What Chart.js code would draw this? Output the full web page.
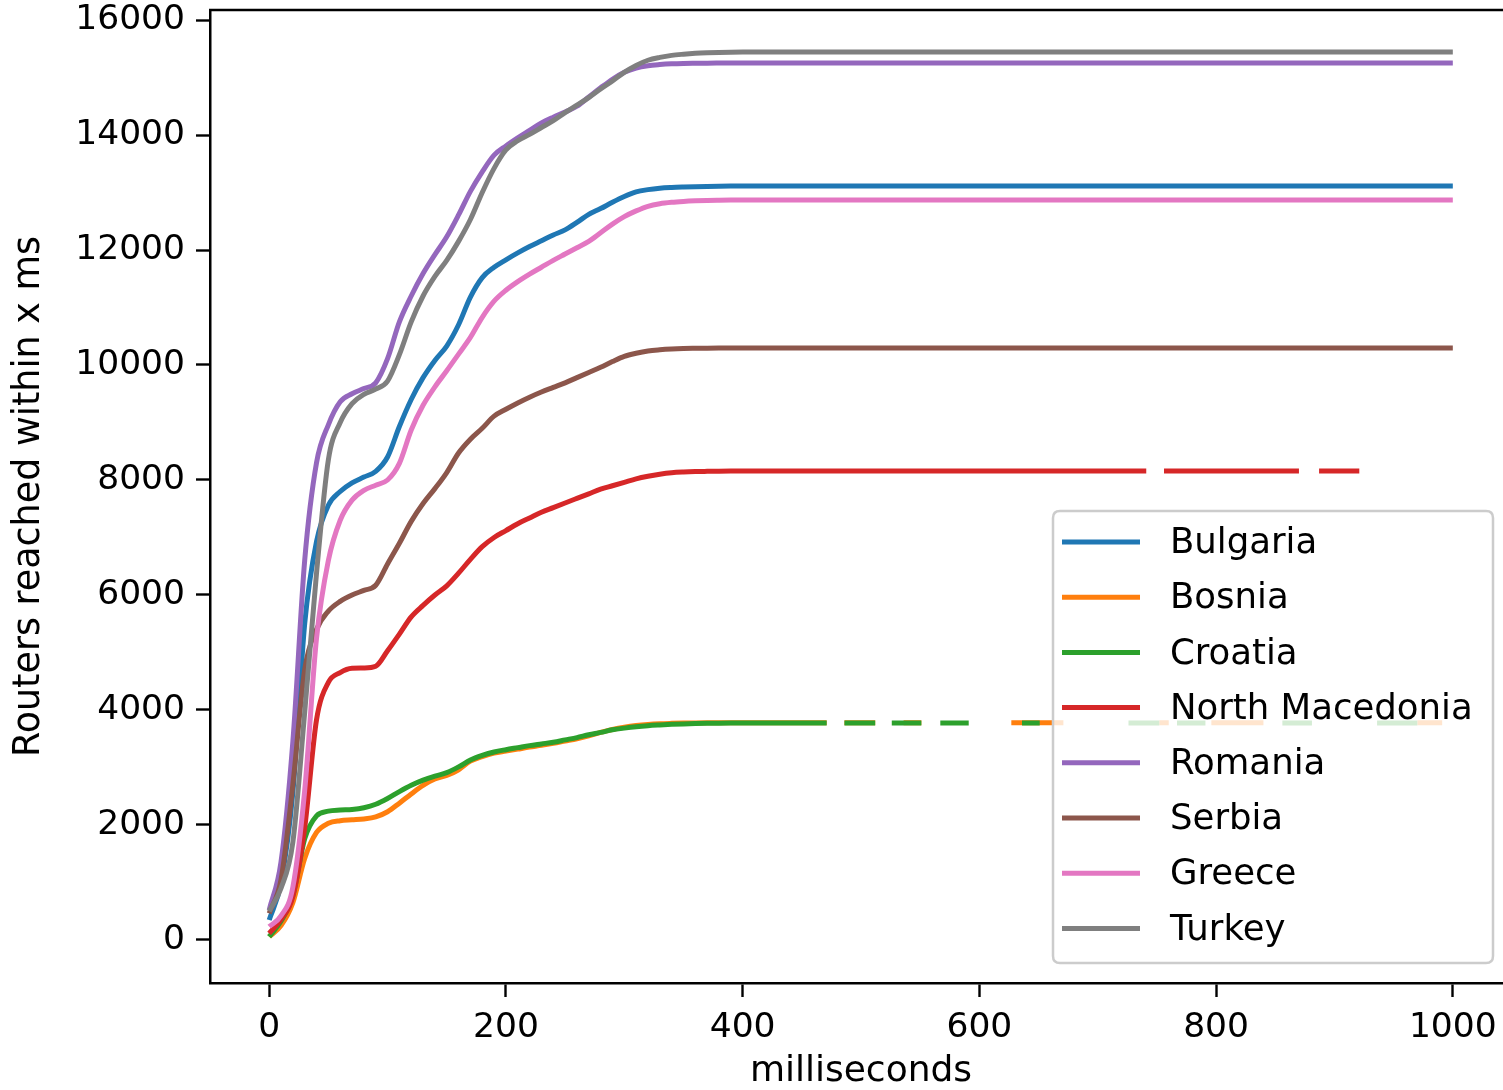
<!DOCTYPE html>
<html>
<head>
<meta charset="utf-8">
<script src="https://cdn.jsdelivr.net/npm/chart.js@4.4.1/dist/chart.umd.min.js"></script>
<style>
  html, body { margin: 0; padding: 0; background: #fff; overflow: hidden; }
  #wrap { width: 1530px; height: 1090px; }
</style>
</head>
<body>
<div id="wrap"><canvas id="chart" width="1530" height="1090"></canvas></div>
<script>
// sample points (ms) of the rising part of each curve
const ms = [0, 10, 20, 30, 40, 50, 60, 70, 80, 90, 100, 110, 120, 130, 140, 150, 160, 170, 180, 190,
  200, 210, 220, 230, 240, 250, 260, 270, 280, 290, 300, 310, 320, 330, 340, 350, 360, 370, 380, 390, 400];

const bulgaria = [348, 1000, 2570, 5500, 6930, 7560, 7800, 7950, 8050, 8150, 8400, 8930, 9400, 9780, 10080,
  10330, 10700, 11180, 11520, 11700, 11830, 11950, 12060, 12160, 12260, 12350, 12480, 12620, 12720, 12830,
  12930, 13010, 13050, 13075, 13088, 13096, 13102, 13106, 13109, 13111, 13112];
const bosnia = [58, 250, 650, 1420, 1870, 2030, 2075, 2090, 2105, 2140, 2230, 2380, 2540, 2690, 2800,
  2860, 2960, 3110, 3190, 3250, 3285, 3320, 3355, 3385, 3420, 3460, 3500, 3550, 3610, 3660,
  3700, 3730, 3750, 3762, 3768, 3772, 3775, 3777, 3778, 3779, 3780];
const croatia = [58, 330, 770, 1760, 2160, 2240, 2260, 2270, 2300, 2360, 2460, 2580, 2690, 2780, 2850,
  2910, 3010, 3130, 3210, 3270, 3310, 3345, 3380, 3410, 3440, 3480, 3520, 3570, 3610, 3655,
  3685, 3710, 3728, 3740, 3750, 3758, 3764, 3768, 3771, 3773, 3774];
const northMacedonia = [116, 360, 760, 1950, 3830, 4480, 4650, 4725, 4730, 4760, 5030, 5320, 5620, 5820, 6000,
  6160, 6380, 6620, 6840, 7000, 7120, 7240, 7340, 7440, 7520, 7600, 7680, 7760, 7840, 7900,
  7960, 8020, 8065, 8100, 8125, 8138, 8146, 8150, 8153, 8155, 8156];
const romania = [522, 1360, 3450, 6600, 8300, 8960, 9360, 9500, 9590, 9690, 10110, 10750, 11200, 11590, 11920,
  12230, 12610, 13020, 13360, 13650, 13810, 13950, 14080, 14210, 14310, 14400, 14500, 14660, 14820, 14970,
  15090, 15165, 15205, 15225, 15238, 15245, 15248, 15250, 15251, 15252, 15252];
const serbia = [464, 1050, 2700, 4700, 5400, 5720, 5890, 6000, 6080, 6170, 6540, 6900, 7280, 7590, 7850,
  8130, 8470, 8710, 8900, 9110, 9230, 9340, 9440, 9530, 9610, 9690, 9780, 9870, 9960, 10060,
  10150, 10205, 10245, 10265, 10278, 10286, 10290, 10293, 10295, 10296, 10296];
const greece = [232, 420, 920, 2600, 5250, 6600, 7300, 7650, 7820, 7910, 8000, 8290, 8870, 9300, 9620,
  9900, 10190, 10480, 10830, 11110, 11300, 11450, 11580, 11700, 11820, 11930, 12040, 12150, 12300, 12450,
  12580, 12680, 12760, 12805, 12830, 12845, 12855, 12862, 12866, 12869, 12870];
const turkey = [500, 900, 1700, 3960, 6380, 8350, 9000, 9330, 9490, 9580, 9720, 10180, 10750, 11200, 11540,
  11820, 12150, 12530, 13000, 13420, 13740, 13900, 14010, 14130, 14250, 14390, 14520, 14650, 14800, 14940,
  15090, 15210, 15300, 15350, 15385, 15405, 15420, 15430, 15437, 15441, 15443];

const names = ['Bulgaria', 'Bosnia', 'Croatia', 'North Macedonia', 'Romania', 'Serbia', 'Greece', 'Turkey'];
const series = [bulgaria, bosnia, croatia, northMacedonia, romania, serbia, greece, turkey];
// level each curve stays at up to 1000 ms
const finalValues = [13113, 3780, 3774, 8156, 15252, 10296, 12870, 15443];
// ms ranges where the flat tail is visible (the rest is missing in the picture)
const tailPieces = [
  [[410, 1000]],
  [[410, 471], [486, 512], [536, 551], [627, 671], [752, 760], [796, 840], [970, 991]],
  [[410, 471], [486, 512], [526, 551], [567, 591], [636, 651], [726, 752], [767, 791], [856, 881], [936, 970]],
  [[410, 741], [756, 870], [887, 921]],
  [[410, 1000]],
  [[410, 1000]],
  [[410, 1000]],
  [[410, 1000]]
];

const xTicks = [0, 200, 400, 600, 800, 1000];
const yTicks = [0, 2000, 4000, 6000, 8000, 10000, 12000, 14000, 16000];

const colors = ['#1f77b4', '#ff7f0e', '#2ca02c', '#d62728', '#9467bd', '#8c564b', '#e377c2', '#7f7f7f'];

Chart.defaults.font.family = "'DejaVu Sans', sans-serif";
Chart.defaults.color = '#000';

function buildPoints(vals, pieces, last) {
  const pts = ms.map((x, i) => ({ x: x, y: vals[i] }));
  pieces.forEach((p, k) => {
    if (k > 0) {
      const prev = pieces[k - 1][1];
      pts.push({ x: (prev + p[0]) / 2, y: null });
    }
    pts.push({ x: p[0], y: last });
    pts.push({ x: p[1], y: last });
  });
  return pts;
}

const datasets = names.map((name, i) => ({
  label: name,
  data: buildPoints(series[i], tailPieces[i], finalValues[i]),
  borderColor: colors[i],
  backgroundColor: colors[i],
  borderWidth: 5,
  pointRadius: 0,
  fill: false,
  cubicInterpolationMode: 'monotone',
  spanGaps: false,
  order: names.length - i
}));

// frame on top/right, like a matplotlib axes
const frame = {
  id: 'frame',
  afterDatasetsDraw(chart) {
    const { ctx, chartArea: a } = chart;
    ctx.save();
    ctx.strokeStyle = '#000';
    ctx.lineWidth = 2.5;
    ctx.beginPath();
    ctx.moveTo(a.left - 1, a.top);
    ctx.lineTo(a.right, a.top);
    ctx.lineTo(a.right, a.bottom);
    ctx.stroke();
    ctx.restore();
  }
};

// legend box in the lower right corner, drawn over the lines
const legendBox = {
  id: 'legendBox',
  afterDatasetsDraw(chart) {
    const { ctx, chartArea: a } = chart;
    const w = 440, h = 452;
    const x = a.right - 19 - w;
    const y = a.bottom - 20 - h;
    const r = 7;
    ctx.save();
    ctx.beginPath();
    ctx.moveTo(x + r, y);
    ctx.lineTo(x + w - r, y);
    ctx.quadraticCurveTo(x + w, y, x + w, y + r);
    ctx.lineTo(x + w, y + h - r);
    ctx.quadraticCurveTo(x + w, y + h, x + w - r, y + h);
    ctx.lineTo(x + r, y + h);
    ctx.quadraticCurveTo(x, y + h, x, y + h - r);
    ctx.lineTo(x, y + r);
    ctx.quadraticCurveTo(x, y, x + r, y);
    ctx.closePath();
    ctx.fillStyle = 'rgba(255,255,255,0.8)';
    ctx.fill();
    ctx.strokeStyle = '#cccccc';
    ctx.lineWidth = 2.5;
    ctx.stroke();

    ctx.font = "35.5px 'DejaVu Sans'";
    ctx.textBaseline = 'middle';
    ctx.fillStyle = '#000';
    names.forEach((name, i) => {
      const cy = y + 31 + i * 55.2;
      ctx.strokeStyle = colors[i];
      ctx.lineWidth = 5;
      ctx.beginPath();
      ctx.moveTo(x + 9, cy);
      ctx.lineTo(x + 87, cy);
      ctx.stroke();
      ctx.fillText(name, x + 117, cy + 2);
    });
    ctx.restore();
  }
};

new Chart(document.getElementById('chart'), {
  type: 'line',
  data: { datasets: datasets },
  options: {
    responsive: false,
    animation: false,
    devicePixelRatio: 1,
    layout: { padding: { left: 0, top: 10, right: 18, bottom: 0 } },
    plugins: { legend: { display: false }, tooltip: { enabled: false } },
    scales: {
      x: {
        type: 'linear',
        min: -50,
        max: 1050,
        afterBuildTicks: s => { s.ticks = xTicks.map(v => ({ value: v })); },
        afterFit: s => { s.height = 107; s.paddingLeft = 0; s.paddingRight = 0; },
        grid: { display: true, drawOnChartArea: false, drawTicks: true, tickLength: 14, tickWidth: 2.4, tickColor: '#000' },
        border: { display: true, color: '#000', width: 2.5 },
        ticks: { color: '#000', padding: 10, font: { size: 34.5 }, maxRotation: 0, autoSkip: false, callback: v => String(v) },
        title: { display: true, text: 'milliseconds', color: '#000', font: { size: 36, lineHeight: 1 }, padding: { top: 0, bottom: 0 } }
      },
      y: {
        type: 'linear',
        min: -748,
        max: 16174,
        afterBuildTicks: s => { s.ticks = yTicks.map(v => ({ value: v })); },
        afterFit: s => { s.width = 210; s.paddingTop = 0; s.paddingBottom = 0; },
        grid: { display: true, drawOnChartArea: false, drawTicks: true, tickLength: 14, tickWidth: 2.4, tickColor: '#000' },
        border: { display: true, color: '#000', width: 2.5 },
        ticks: { color: '#000', padding: 11, font: { size: 34.5 }, autoSkip: false, callback: v => String(v) },
        title: { display: true, text: 'Routers reached within x ms', color: '#000', font: { size: 36.5, lineHeight: 1.2 }, padding: { top: 8, bottom: 0 } }
      }
    }
  },
  plugins: [frame, legendBox]
});
</script>
</body>
</html>
